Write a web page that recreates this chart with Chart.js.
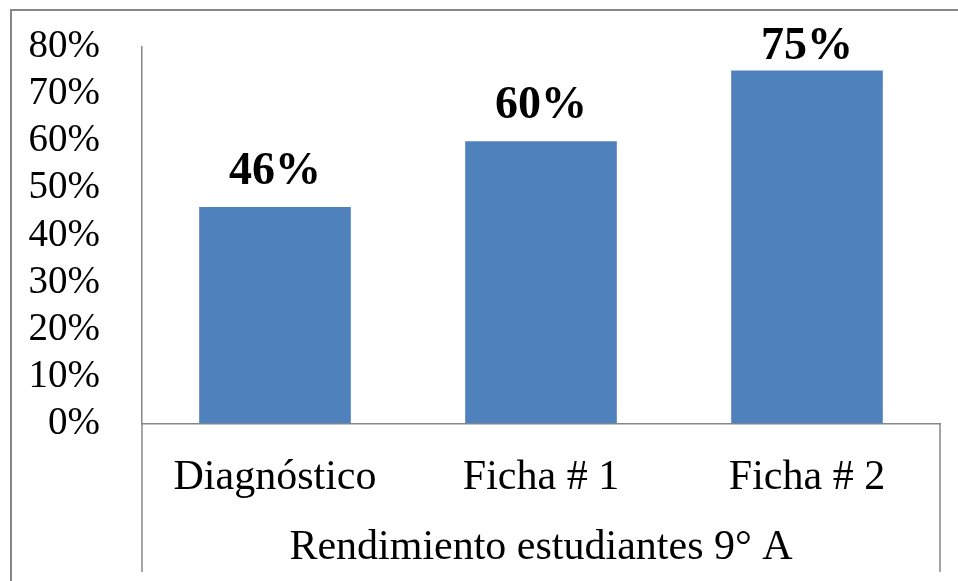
<!DOCTYPE html>
<html>
<head>
<meta charset="utf-8">
<script src="https://cdn.jsdelivr.net/npm/chart.js@4/dist/chart.umd.min.js"></script>
<style>
  html, body { margin: 0; padding: 0; background: #ffffff; }
  #wrap { position: relative; width: 958px; height: 581px; }
</style>
</head>
<body>
<div id="wrap"><canvas id="c" width="958" height="581"></canvas></div>
<script>
const categories = ['Diagnóstico', 'Ficha # 1', 'Ficha # 2'];
const groupLabel = 'Rendimiento estudiantes 9° A';
const values = [46, 60, 75];
const yTicks = [0, 10, 20, 30, 40, 50, 60, 70, 80];

const SERIF = '"Liberation Serif", "Times New Roman", serif';
const LINE = '#878787';

const decorPlugin = {
  id: 'decor',
  afterDraw(chart) {
    const ctx = chart.ctx;
    const a = chart.chartArea;
    const xs = chart.scales.x;
    ctx.save();
    // outer frame
    ctx.strokeStyle = LINE;
    ctx.lineWidth = 2;
    ctx.beginPath();
    ctx.moveTo(11, chart.height + 10);
    ctx.lineTo(11, 10);
    ctx.lineTo(chart.width + 10, 10);
    ctx.stroke();
    // extend category box lines downward
    ctx.lineWidth = 1.5;
    const yEnd = xs.bottom - 9;
    ctx.beginPath();
    ctx.moveTo(a.left, a.bottom);
    ctx.lineTo(a.left, yEnd);
    ctx.moveTo(a.right, a.bottom);
    ctx.lineTo(a.right, yEnd);
    ctx.stroke();
    ctx.restore();
  },
  afterDatasetsDraw(chart) {
    const ctx = chart.ctx;
    const meta = chart.getDatasetMeta(0);
    const a = chart.chartArea;
    ctx.save();
    ctx.font = 'bold 46px ' + SERIF;
    ctx.fillStyle = '#000000';
    ctx.textAlign = 'center';
    ctx.textBaseline = 'alphabetic';
    meta.data.forEach((bar, i) => {
      const y = Math.max(bar.y - 23, a.top + 12);
      ctx.fillText(values[i] + '%', bar.x, y);
    });
    ctx.restore();
  }
};

new Chart(document.getElementById('c'), {
  type: 'bar',
  data: {
    labels: categories,
    datasets: [{
      data: values,
      backgroundColor: '#4F81BD',
      borderWidth: 0,
      categoryPercentage: 1.0,
      barPercentage: 0.57
    }]
  },
  options: {
    responsive: false,
    animation: false,
    devicePixelRatio: 1,
    layout: { padding: { top: 47, right: 18, bottom: 0, left: 0 } },
    plugins: { legend: { display: false }, tooltip: { enabled: false } },
    scales: {
      x: {
        grid: { display: false, drawTicks: false },
        border: { display: true, color: LINE, width: 1.5 },
        ticks: {
          color: '#000000',
          font: { family: SERIF, size: 42 },
          padding: 29,
          maxRotation: 0,
          autoSkip: false
        },
        title: {
          display: true,
          text: groupLabel,
          color: '#000000',
          font: { family: SERIF, size: 42 },
          padding: { top: 0, bottom: 8 }
        },
        afterFit(scale) { scale.height = 157.5; }
      },
      y: {
        min: 0,
        max: 80,
        grid: { display: false, drawTicks: false },
        border: { display: true, color: LINE, width: 1.5 },
        afterBuildTicks(scale) { scale.ticks = yTicks.map(v => ({ value: v })); },
        ticks: {
          color: '#000000',
          font: { family: SERIF, size: 39 },
          padding: 42,
          autoSkip: false,
          callback: v => v + '%'
        },
        afterFit(scale) {
          scale.width = 142;
          scale.paddingTop = 0;
          scale.paddingBottom = 0;
        }
      }
    }
  },
  plugins: [decorPlugin]
});
</script>
</body>
</html>
